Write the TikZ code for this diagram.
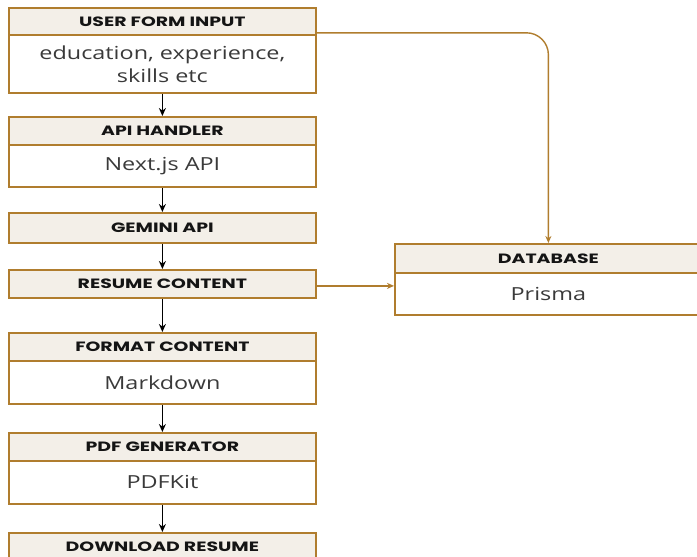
\documentclass[tikz,border=0pt]{standalone}
\usepackage{fontspec}
\setmainfont{Open Sans}[FakeStretch=1.3]
\newfontfamily\hdrfamily{Poppins}[UprightFont=*-Bold,FakeStretch=1.4]
\usetikzlibrary{arrows.meta}
\definecolor{brd}{HTML}{B07D2E}
\definecolor{hbg}{HTML}{F3EFE8}
\definecolor{htx}{HTML}{141414}
\definecolor{btx}{HTML}{3A3A3A}
\begin{document}
\begin{tikzpicture}[x=1pt,y=-1pt,
  hdr/.style={draw=brd, fill=hbg, line width=1.8pt, minimum width=307pt, inner sep=0pt, anchor=north west, text=htx, font=\hdrfamily\fontsize{13.5}{16}\selectfont},
  bdy/.style={draw=brd, fill=white, line width=1.8pt, minimum width=307pt, inner sep=0pt, anchor=north west, text=btx, align=center, font=\fontsize{18}{23}\selectfont},
  arr/.style={-{Stealth[length=8pt,width=7pt]}, line width=1.8pt, black},
  barr/.style={-{Stealth[length=7pt,width=6pt]}, line width=1.4pt, brd}]
\useasboundingbox (0,0) rectangle (697,557);
\fill[white] (0,0) rectangle (697,557);
% user form input
\node[bdy, minimum height=58pt] (ufb) at (8,34) {education, experience,\\skills etc};
\node[hdr, minimum height=27pt] (ufh) at (8,7) {USER FORM INPUT};
% api handler
\node[bdy, minimum height=42pt] (apb) at (8,144) {Next.js API};
\node[hdr, minimum height=28pt] (aph) at (8,116) {API HANDLER};
% gemini
\node[hdr, minimum height=30pt] (gem) at (8,212) {GEMINI API};
% resume content
\node[hdr, minimum height=28pt] (rc) at (8,269) {RESUME CONTENT};
% format content
\node[bdy, minimum height=43pt] (fcb) at (8,360) {Markdown};
\node[hdr, minimum height=28pt] (fch) at (8,332) {FORMAT CONTENT};
% pdf generator
\node[bdy, minimum height=43pt] (pgb) at (8,460) {PDFKit};
\node[hdr, minimum height=28pt] (pgh) at (8,432) {PDF GENERATOR};
% download
\node[hdr, minimum height=28pt] (dl) at (8,532) {DOWNLOAD RESUME};
% database
\node[bdy, minimum height=42pt] (dbb) at (394,272) {Prisma};
\node[hdr, minimum height=29pt] (dbh) at (394,243) {DATABASE};
% arrows
\draw[arr] (ufb.south) -- (aph.north);
\draw[arr] (apb.south) -- (gem.north);
\draw[arr] (gem.south) -- (rc.north);
\draw[arr] (rc.south) -- (fch.north);
\draw[arr] (fcb.south) -- (pgh.north);
\draw[arr] (pgb.south) -- (dl.north);
\draw[barr, rounded corners=22pt] ([yshift=3pt]ufh.south east) -| (dbh.north);
\draw[barr] ([yshift=-2pt]rc.east) -- ([yshift=-2pt]rc.east -| dbb.west);
\end{tikzpicture}
\end{document}
